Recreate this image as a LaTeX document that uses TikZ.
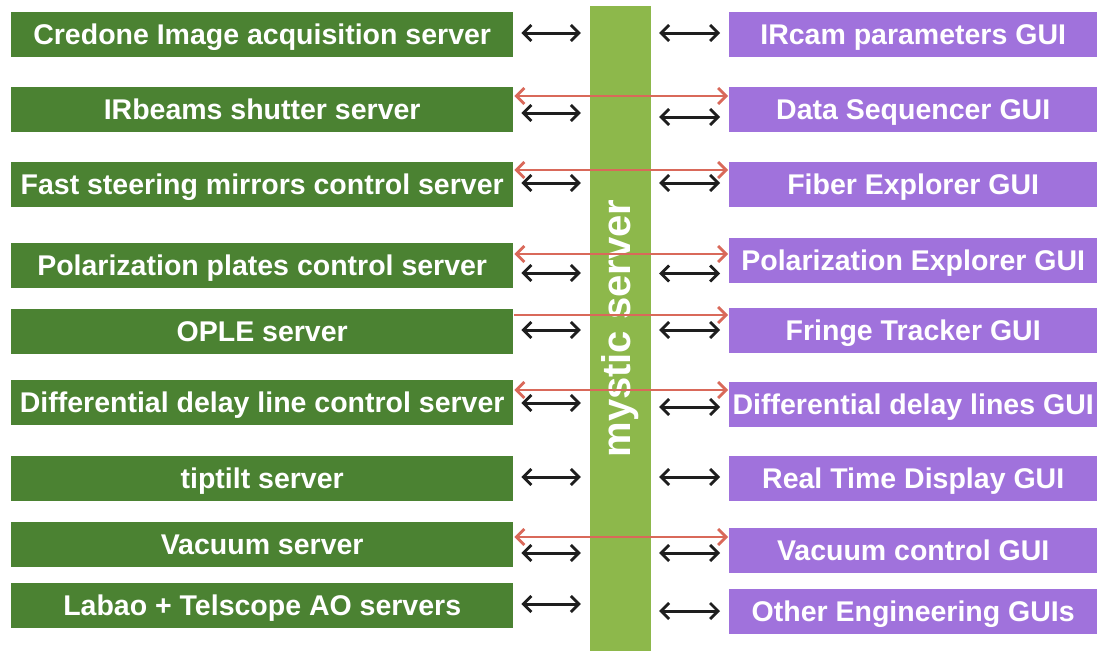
\documentclass[tikz,border=0pt]{standalone}
\usepackage{fontspec}
\setmainfont{Liberation Sans}
\usepackage{graphicx}
\usetikzlibrary{arrows.meta,positioning}

\definecolor{srvgreen}{RGB}{75,130,50}
\definecolor{bargreen}{RGB}{141,184,75}
\definecolor{guipurple}{RGB}{160,114,220}
\definecolor{directred}{RGB}{217,105,90}
\definecolor{linkblack}{RGB}{30,30,30}

\tikzset{
  box/.style={text=white, font=\fontsize{28.5}{30}\selectfont\bfseries,
    text height=26pt, text depth=6pt,
    minimum height=45pt, inner sep=0pt, anchor=west},
  server/.style={box, fill=srvgreen, minimum width=502pt},
  gui/.style={box, fill=guipurple, minimum width=368pt},
  barb/.tip={Straight Barb[length=8pt,width=16pt,line width=2.8pt]},
  link/.style={draw=linkblack, line width=3pt, shorten <=8pt, shorten >=9pt, barb-barb},
  direct/.style={draw=directred, line width=2.4pt, shorten <=1pt, shorten >=1pt, barb-barb}
}

\begin{document}
\begin{tikzpicture}[x=1pt,y=-1pt]
    \useasboundingbox (0,0) rectangle (1097,651);
    %bar
    \node[fill=bargreen, minimum width=61pt, minimum height=645pt, inner sep=0pt,
      text=white, font=\fontsize{40}{42}\selectfont\bfseries] (mystic) at (620.5,328.5)
      {\rotatebox{90}{mystic server}};
    %servers
    \node[server] (l1) at (11,34) {Credone Image acquisition server};
    \node[server] (l2) at (11,109) {IRbeams shutter server};
    \node[server] (l3) at (11,184) {Fast steering mirrors control server};
    \node[server] (l4) at (11,265.5) {Polarization plates control server};
    \node[server] (l5) at (11,331) {OPLE server};
    \node[server] (l6) at (11,402.5) {Differential delay line control server};
    \node[server] (l7) at (11,478) {tiptilt server};
    \node[server] (l8) at (11,544.5) {Vacuum server};
    \node[server] (l9) at (11,605) {Labao + Telscope AO servers};
    %guis
    \node[gui] (r1) at (729,34) {IRcam parameters GUI};
    \node[gui] (r2) at (729,109) {Data Sequencer GUI};
    \node[gui] (r3) at (729,184.5) {Fiber Explorer GUI};
    \node[gui] (r4) at (729,260) {Polarization Explorer GUI};
    \node[gui] (r5) at (729,330.5) {Fringe Tracker GUI};
    \node[gui] (r6) at (729,404.5) {Differential delay lines GUI};
    \node[gui] (r7) at (729,478.5) {Real Time Display GUI};
    \node[gui] (r8) at (729,550) {Vacuum control GUI};
    \node[gui] (r9) at (729,611.5) {Other Engineering GUIs};
    %links through the server
    \foreach \i/\a/\b in {1/1/1, 2/-4/-8, 3/1/1.5, 4/-7.5/-13.5, 5/1/0.5,
                          6/-0.5/-2.5, 7/1/1.5, 8/-8.5/-3, 9/1/0.5} {
      \draw[link] ([yshift=\a pt]l\i.east) -- ([yshift=\a pt]l\i.east -| mystic.west);
      \draw[link] ([yshift=\b pt]r\i.west -| mystic.east) -- ([yshift=\b pt]r\i.west);
    }
    %direct links
    \foreach \i/\a in {2/13, 3/14, 4/11.5, 6/12.5, 8/7.5}
      \draw[direct] ([yshift=\a pt]l\i.east) -- ([yshift=\a pt]l\i.east -| r\i.west);
    \draw[direct, -barb] ([yshift=16pt]l5.east) -- ([yshift=16pt]l5.east -| r5.west);
\end{tikzpicture}
\end{document}
